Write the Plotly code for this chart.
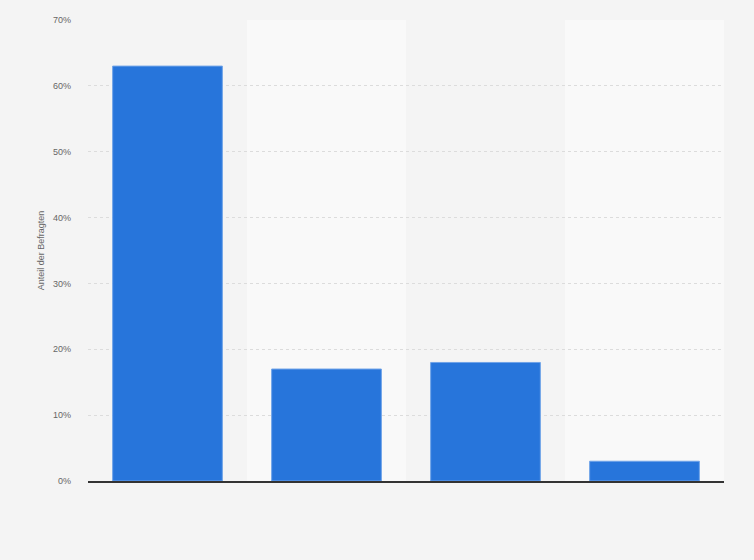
import plotly.graph_objects as go

# Anteil der Befragten je Antwort (Beschriftungen im Original nicht sichtbar)
categories = [0, 1, 2, 3]
values = [63, 17, 18, 3]
y_ticks = [0, 10, 20, 30, 40, 50, 60, 70]
y_tick_labels = ["0%", "10%", "20%", "30%", "40%", "50%", "60%", "70%"]

fig = go.Figure()

fig.add_trace(go.Bar(
    x=categories,
    y=values,
    marker=dict(color="#2775db", line=dict(color="#6fa3e8", width=1)),
    hovertemplate="%{y}%<extra></extra>",
))

# alternating column bands behind bars
for i, c in enumerate(categories):
    if i % 2 == 1:
        fig.add_shape(type="rect", xref="x", yref="paper",
                      x0=c - 0.5, x1=c + 0.5, y0=0, y1=1,
                      fillcolor="#f9f9f9", line_width=0, layer="below")

fig.update_layout(
    width=754,
    height=560,
    paper_bgcolor="#f4f4f4",
    plot_bgcolor="#f4f4f4",
    margin=dict(l=88, r=30, t=20, b=79),
    bargap=0.31,
    showlegend=False,
    font=dict(family="Arial, Liberation Sans, sans-serif", color="#666666", size=9),
    xaxis=dict(
        range=[-0.5, 3.5],
        showticklabels=False,
        showgrid=False,
        zeroline=False,
        showline=True,
        linecolor="#333333",
        linewidth=1.5,
        ticks="",
    ),
    yaxis=dict(
        range=[0, 70],
        tickvals=y_ticks,
        ticktext=y_tick_labels,
        showgrid=True,
        gridcolor="#dcdcdc",
        griddash="dot",
        gridwidth=1,
        zeroline=False,
        ticks="",
        ticklabelstandoff=16,
        title=dict(text="Anteil der Befragten", font=dict(size=9, color="#666666"), standoff=6),
    ),
)

# drop the default page margin so the chart sits at the window's corner
fig.write_html(
    "out.html",
    config={"displayModeBar": False},
    post_script="document.body.style.margin='0';document.body.style.background='#f4f4f4';",
)
